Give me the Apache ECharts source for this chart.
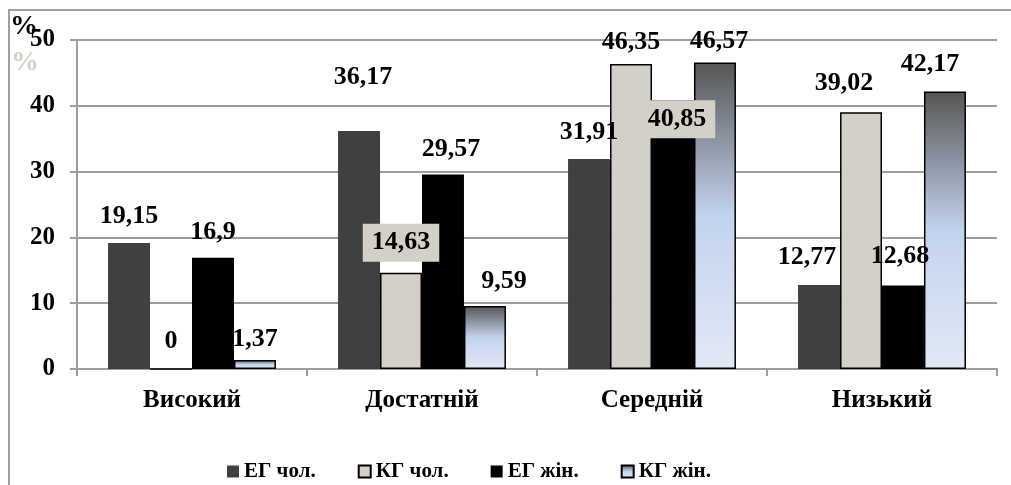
<!DOCTYPE html>
<html>
<head>
<meta charset="utf-8">
<script src="https://cdn.jsdelivr.net/npm/echarts@6/dist/echarts.min.js"></script>
<style>
  html, body { margin: 0; padding: 0; background: #fff; }
  #chart { width: 1011px; height: 485px; }
</style>
</head>
<body>
<div id="chart"></div>
<script>
// дані
const categories = ['Високий', 'Достатній', 'Середній', 'Низький']
const seriesNames = ['ЕГ чол.', 'КГ чол.', 'ЕГ жін.', 'КГ жін.']
const egMale = [19.15, 36.17, 31.91, 12.77]
const kgMale = [0, 14.63, 46.35, 39.02]
const egFemale = [16.9, 29.57, 40.85, 12.68]
const kgFemale = [1.37, 9.59, 46.57, 42.17]
const yMin = 0, yMax = 50, yStep = 10

// зсуви підписів (як у вихідній діаграмі)
const nudges = [
  [[0, -9], [4, -36], [0, -9], [-12, -10]],
  [[0, -9], [0, -6], [0, -4], [-17, -11]],
  [[0, -8], [8, -7], [4, 43], [-3, -11]],
  [[0, -3], [19, -7], [4, -3], [-15, -9]]
]
// підписи з сірою підкладкою: [серія, категорія]
const boxed = [[1, 1], [2, 2]]

const font = 'Liberation Serif, Times New Roman, serif'
const gridColor = '#9d9d9d'

const styles = [
  { color: '#404040' },
  { color: '#d4d0c8', borderColor: '#000', borderWidth: 1.5 },
  { color: '#000000' },
  {
    color: {
      type: 'linear', x: 0, y: 0, x2: 0, y2: 1,
      colorStops: [
        { offset: 0, color: '#555555' },
        { offset: 0.5, color: '#c3d3ee' },
        { offset: 1, color: '#e2e9f5' }
      ]
    },
    borderColor: '#000', borderWidth: 1.5
  }
]

const values = [egMale, kgMale, egFemale, kgFemale]

const series = values.map((vals, s) => ({
  name: seriesNames[s],
  type: 'bar',
  barGap: 0,
  barCategoryGap: '27%',
  itemStyle: styles[s],
  label: {
    show: true,
    position: 'top',
    distance: 5,
    color: '#000',
    fontFamily: font,
    fontWeight: 'bold',
    fontSize: 26,
    formatter: p => String(p.value).replace('.', ',')
  },
  data: vals.map((v, i) => {
    const isBoxed = boxed.some(b => b[0] === s && b[1] === i)
    const item = { value: v, label: { offset: nudges[s][i] } }
    if (isBoxed) {
      item.label.backgroundColor = '#d4d0c8'
      item.label.padding = [6, 9]
    }
    return item
  })
}))

const option = {
  backgroundColor: '#fff',
  animation: false,
  grid: { left: 77, right: 14, top: 40, bottom: 116 },
  legend: {
    left: 222,
    top: 456,
    icon: 'rect',
    itemWidth: 12,
    itemHeight: 12,
    itemGap: 42,
    textStyle: { fontFamily: font, fontWeight: 'bold', fontSize: 21, color: '#000' },
    data: seriesNames
  },
  xAxis: {
    type: 'category',
    data: categories,
    axisLine: { lineStyle: { color: gridColor, width: 2 } },
    axisTick: { show: true, length: 7, lineStyle: { color: gridColor, width: 2 } },
    axisLabel: { margin: 19, color: '#000', fontFamily: font, fontWeight: 'bold', fontSize: 25 }
  },
  yAxis: {
    type: 'value',
    min: yMin,
    max: yMax,
    interval: yStep,
    axisLine: { show: true, lineStyle: { color: gridColor, width: 2 } },
    axisTick: { show: true, length: 7, lineStyle: { color: gridColor, width: 2 } },
    axisLabel: { margin: 22, color: '#000', fontFamily: font, fontWeight: 'bold', fontSize: 25 },
    splitLine: { lineStyle: { color: gridColor, width: 2 } }
  },
  graphic: [
    {
      type: 'rect',
      silent: true,
      shape: { x: 9, y: 10, width: 1010, height: 490 },
      style: { fill: null, stroke: '#a0a0a0', lineWidth: 2 }
    },
    {
      type: 'text',
      left: 11, top: 49,
      style: { text: '%', fill: '#d4d0c8', font: 'bold 28px ' + font }
    },
    {
      type: 'text',
      left: 10, top: 13,
      style: { text: '%', fill: '#000', font: 'bold 28px ' + font }
    }
  ],
  series: series
}

const chart = echarts.init(document.getElementById('chart'))
chart.setOption(option)
</script>
</body>
</html>
